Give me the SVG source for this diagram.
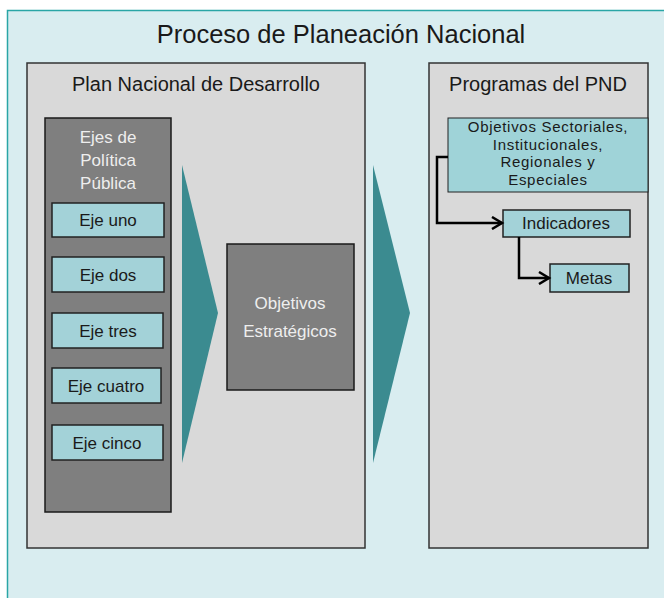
<svg xmlns="http://www.w3.org/2000/svg" width="664" height="598" viewBox="0 0 664 598">
<defs>
<style>
text{font-family:"Liberation Sans","DejaVu Sans",sans-serif;text-anchor:middle}
.panel{fill:#d9d9d9;stroke:#333;stroke-width:1.5}
.dark{fill:#7f7f7f;stroke:#1a1a1a;stroke-width:1.5}
.eje{fill:#a3d2d8;stroke:#222;stroke-width:1.5}
.t{fill:#1a1a1a}
.w{fill:#eeeeee}
.chev{fill:#3b8b90}
.conn{fill:none;stroke:#000;stroke-width:2.5}
.sec{font-size:15px;letter-spacing:0.7px}
</style>
<marker id="arr" markerWidth="14" markerHeight="14" refX="11" refY="7" orient="auto" markerUnits="userSpaceOnUse">
<path d="M1,1 L11,7 L1,13" fill="none" stroke="#000" stroke-width="2.5"/>
</marker>
</defs>
<rect x="7.5" y="10.5" width="670" height="600" fill="#d9edf0" stroke="#2aa6a6" stroke-width="1.5"/>
<text x="341" y="43" font-size="25.5" class="t">Proceso de Planeación Nacional</text>

<g id="plan">
<rect class="panel" x="27" y="63" width="338" height="485"/>
<text x="196" y="91" font-size="20" class="t">Plan Nacional de Desarrollo</text>
</g>
<g id="ejes">
<rect class="dark" x="45" y="118" width="126" height="394"/>
<text x="108" y="143" font-size="17" class="w">Ejes de</text>
<text x="108" y="166" font-size="17" class="w">Política</text>
<text x="108" y="189" font-size="17" class="w">Pública</text>
</g>
<g id="eje1"><rect class="eje" x="52" y="203" width="112" height="34"/><text x="108" y="226" font-size="17" class="t">Eje uno</text></g>
<g id="eje2"><rect class="eje" x="52" y="257" width="112" height="35"/><text x="108" y="281" font-size="17" class="t">Eje dos</text></g>
<g id="eje3"><rect class="eje" x="52" y="313" width="111" height="35"/><text x="108" y="337" font-size="17" class="t">Eje tres</text></g>
<g id="eje4"><rect class="eje" x="52" y="368" width="109" height="35"/><text x="106" y="392" font-size="17" class="t">Eje cuatro</text></g>
<g id="eje5"><rect class="eje" x="52" y="425" width="111" height="35"/><text x="107" y="449" font-size="17" class="t">Eje cinco</text></g>

<g id="chevron1"><polygon class="chev" points="182,165 218,313 182,463"/></g>
<g id="objetivos">
<rect class="dark" x="227" y="244" width="127" height="146"/>
<text x="290" y="309" font-size="17" class="w">Objetivos</text>
<text x="290" y="337" font-size="17" class="w">Estratégicos</text>
</g>
<g id="chevron2"><polygon class="chev" points="373,165 410,313 373,463"/></g>

<g id="programas">
<rect class="panel" x="429" y="63" width="219" height="485"/>
<text x="538" y="91" font-size="20" class="t">Programas del PND</text>
</g>
<g id="sectoriales">
<rect x="448" y="118" width="200" height="74" fill="#9fd3d8" stroke="#222" stroke-width="1"/>
<text x="548" y="132" class="t sec">Objetivos Sectoriales,</text>
<text x="548" y="149.5" class="t sec">Institucionales,</text>
<text x="548" y="167" class="t sec">Regionales y</text>
<text x="548" y="184.5" class="t sec">Especiales</text>
</g>
<g id="indicadores"><rect class="eje" x="503" y="210" width="127" height="27"/><text x="566" y="229" font-size="17" class="t">Indicadores</text></g>
<g id="metas"><rect class="eje" x="550" y="264" width="79" height="28"/><text x="589" y="284" font-size="17" class="t">Metas</text></g>

<g id="connectors">
<path class="conn" d="M448,157 H437 V223 H502" marker-end="url(#arr)"/>
<path class="conn" d="M519,237 V278 H549" marker-end="url(#arr)"/>
</g>
</svg>
